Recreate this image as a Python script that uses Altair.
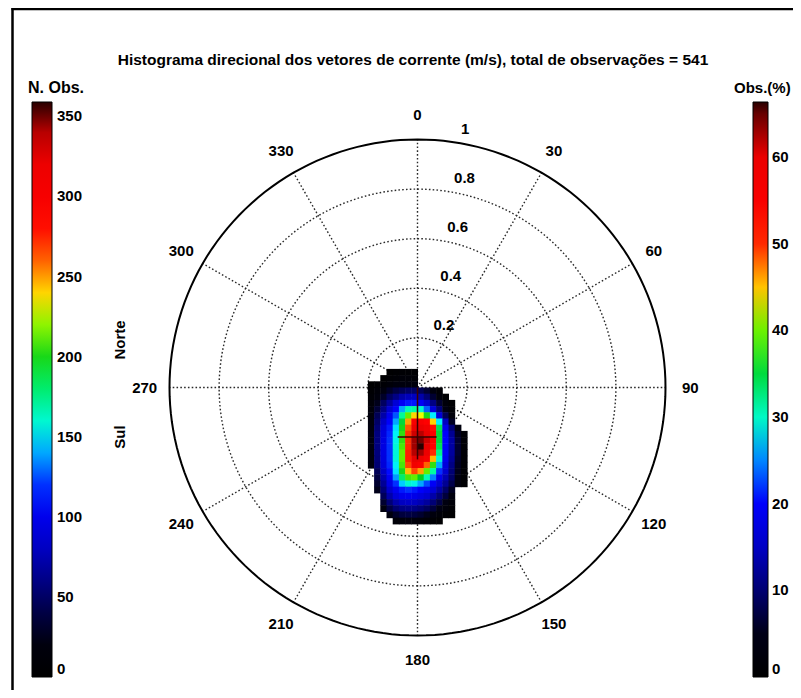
import math
import altair as alt
import pandas as pd

# ---------------- text ----------------
TITLE = "Histograma direcional dos vetores de corrente (m/s), total de observações = 541"
LEFT_TITLE = "N. Obs."
RIGHT_TITLE = "Obs.(%)"
NORTH_LABEL = "Norte"
SOUTH_LABEL = "Sul"
TOTAL_OBS = 541

# ---------------- polar grid ----------------
ANGLES = [0, 30, 60, 90, 120, 150, 180, 210, 240, 270, 300, 330]
ANGLE_LABELS = ["0", "30", "60", "90", "120", "150", "180", "210", "240", "270", "300", "330"]
RINGS = [0.2, 0.4, 0.6, 0.8]
RADIAL_TICKS = [0.2, 0.4, 0.6, 0.8, 1.0]
RADIAL_LABELS = ["0.2", "0.4", "0.6", "0.8", "1"]
R_MAX = 1.0

# ---------------- colour bars ----------------
COUNT_TICKS = [0, 50, 100, 150, 200, 250, 300, 350]
PCT_TICKS = [0, 10, 20, 30, 40, 50, 60]
STOP_COUNTS = [0, 25, 50, 85, 110, 130, 150, 170, 195, 215, 232, 250, 268, 285, 330, 345, 359]
STOP_COLORS = ["#000000", "#000010", "#000066", "#0000d0", "#0000ff", "#0060ff",
               "#00f0ff", "#00ffa0", "#00d020", "#60f000", "#ffff00", "#ffa000",
               "#ff3000", "#ff0000", "#e80000", "#a00000", "#280000"]

# ---------------- 2-D histogram (counts per velocity cell, m/s) ----------------
U_START = -0.2    # west edge of first column (east component, m/s)
V_START = 0.075   # north edge of first row (north component, m/s)
CELL = 0.025
N = None
GRID_ROWS = [
    [N, N, N, 3, 5, 6, 6, 4, N, N, N, N, N, N, N, N],
    [N, N, 3, 6, 10, 12, 12, 10, N, N, N, N, N, N, N, N],
    [2, 4, 8, 12, 18, 20, 20, 18, N, N, N, N, N, N, N, N],
    [5, 12, 22, 32, 40, 45, 50, 50, 45, 35, 20, 8, N, N, N, N],
    [8, 18, 32, 48, 60, 72, 78, 80, 72, 55, 35, 15, 5, N, N, N],
    [12, 28, 48, 68, 88, 105, 115, 115, 105, 85, 60, 35, 15, 5, N, N],
    [15, 36, 60, 85, 108, 140, 165, 170, 160, 130, 90, 55, 25, 8, N, N],
    [18, 45, 72, 100, 128, 172, 215, 240, 230, 200, 150, 90, 45, 15, N, N],
    [20, 50, 82, 108, 140, 190, 250, 295, 300, 285, 240, 150, 80, 30, N, N],
    [22, 55, 90, 115, 148, 200, 262, 320, 325, 310, 280, 185, 100, 55, 20, N],
    [24, 58, 92, 118, 152, 205, 268, 335, 340, 325, 290, 190, 108, 65, 30, 8],
    [24, 58, 94, 120, 155, 205, 270, 345, 350, 335, 290, 190, 110, 70, 35, 10],
    [24, 58, 94, 120, 158, 210, 272, 345, 359, 330, 285, 185, 108, 70, 35, 10],
    [24, 58, 94, 120, 158, 215, 275, 340, 345, 320, 270, 175, 105, 68, 35, 10],
    [24, 56, 92, 120, 158, 215, 275, 330, 325, 300, 245, 160, 100, 65, 32, 10],
    [22, 54, 90, 118, 152, 210, 265, 310, 295, 260, 205, 140, 92, 60, 30, 8],
    [N, 46, 82, 112, 148, 200, 245, 265, 250, 215, 170, 120, 85, 55, 28, 7],
    [N, 40, 74, 104, 138, 180, 210, 215, 195, 165, 135, 100, 75, 50, 25, 6],
    [N, 34, 66, 96, 120, 145, 160, 155, 140, 125, 105, 85, 65, 42, 20, 5],
    [N, 28, 56, 84, 102, 115, 120, 115, 108, 100, 88, 70, 50, 30, N, N],
    [N, N, 46, 72, 90, 100, 102, 98, 92, 85, 72, 55, 38, 20, N, N],
    [N, N, 34, 55, 72, 80, 82, 80, 75, 68, 55, 40, 25, 12, N, N],
    [N, N, 22, 40, 53, 60, 62, 60, 55, 48, 38, 26, 15, 7, N, N],
    [N, N, N, 22, 32, 38, 40, 38, 34, 28, 20, 12, 7, 3, N, N],
    [N, N, N, N, 12, 16, 18, 16, 14, 10, 6, 3, N, N, N, N],
]

# mean-vector marker (m/s)
MEAN_U = [0.0, 0.0]
MEAN_V = [0.0, -0.29]
CROSS_U = [-0.08, 0.077]
CROSS_V = [-0.2, -0.2]

# ---------------- layout ----------------
W, H = 785, 682
PX = 248.0                 # pixels per m/s
CX, CY = 409.5, 379.5      # pole position inside the canvas
FONT = "Liberation Sans"
LABEL_R = 1.1
RLABEL_ANGLE = 8.0
BAR_TOP, BAR_LEN = 94, 575
EPS = 0.5 / PX             # tiny overlap so neighbouring cells leave no seam

xs = alt.Scale(domain=[-CX / PX, (W - CX) / PX], nice=False, zero=False)
ys = alt.Scale(domain=[-(H - CY) / PX, CY / PX], nice=False, zero=False)

COUNT_MAX = STOP_COUNTS[-1]
PCT_MAX = COUNT_MAX * 100.0 / TOTAL_OBS
stop_pct = [c * 100.0 / TOTAL_OBS for c in STOP_COUNTS]

# ---------------- tables ----------------
cells = []
for i, row in enumerate(GRID_ROWS):
    for j, val in enumerate(row):
        if val is None:
            continue
        u0 = U_START + j * CELL
        v0 = V_START - i * CELL
        cells.append({"u0": u0, "u1": u0 + CELL + EPS, "v0": v0, "v1": v0 - CELL - EPS, "n": val})
cells = pd.DataFrame(cells)

circ = []
for r in RINGS + [R_MAX]:
    for k in range(0, 361, 2):
        t = math.radians(k)
        circ.append({"ring": r, "k": k, "u": r * math.sin(t), "v": r * math.cos(t)})
circ = pd.DataFrame(circ)

spokes = pd.DataFrame({
    "u0": [0.0] * len(ANGLES), "v0": [0.0] * len(ANGLES),
    "u1": [R_MAX * math.sin(math.radians(a)) for a in ANGLES],
    "v1": [R_MAX * math.cos(math.radians(a)) for a in ANGLES],
})
alabels = pd.DataFrame({
    "u": [LABEL_R * math.sin(math.radians(a)) for a in ANGLES],
    "v": [LABEL_R * math.cos(math.radians(a)) for a in ANGLES],
    "t": ANGLE_LABELS,
})
rlabels = pd.DataFrame({
    "u": [r * math.sin(math.radians(RLABEL_ANGLE)) for r in RADIAL_TICKS],
    "v": [r * math.cos(math.radians(RLABEL_ANGLE)) for r in RADIAL_TICKS],
    "t": RADIAL_LABELS,
})
mean_df = pd.DataFrame({"u0": [MEAN_U[0], CROSS_U[0]], "u1": [MEAN_U[1], CROSS_U[1]],
                        "v0": [MEAN_V[0], CROSS_V[0]], "v1": [MEAN_V[1], CROSS_V[1]]})
pct_df = pd.DataFrame({"p": [0.0, PCT_MAX]})
count_tick_df = pd.DataFrame({"t": COUNT_TICKS[1:]})
pct_tick_df = pd.DataFrame({"t": PCT_TICKS[1:]})

# ---------------- layers ----------------
dotted = dict(strokeDash=[1.6, 2.2], strokeWidth=1.4, color="#2a2a2a")

rings = alt.Chart(circ[circ.ring < R_MAX]).mark_line(**dotted).encode(
    x=alt.X("u:Q", scale=xs, axis=None),
    y=alt.Y("v:Q", scale=ys, axis=None),
    detail="ring:N", order="k:Q")

outer = alt.Chart(circ[circ.ring == R_MAX]).mark_line(color="black", strokeWidth=2).encode(
    x=alt.X("u:Q", scale=xs, axis=None),
    y=alt.Y("v:Q", scale=ys, axis=None),
    order="k:Q")

spoke_layer = alt.Chart(spokes).mark_rule(**dotted).encode(
    x=alt.X("u0:Q", scale=xs, axis=None), x2="u1:Q",
    y=alt.Y("v0:Q", scale=ys, axis=None), y2="v1:Q")

legend_common = dict(orient="none", legendY=BAR_TOP, direction="vertical",
                     gradientLength=BAR_LEN, labelFontSize=15, labelFont=FONT,
                     labelFontWeight="bold", labelColor="black", labelBaseline="middle",
                     labelOverlap=False, gradientStrokeColor="black",
                     gradientStrokeWidth=1, title=None)

heat = alt.Chart(cells).mark_rect().encode(
    x=alt.X("u0:Q", scale=xs, axis=None), x2="u1:Q",
    y=alt.Y("v0:Q", scale=ys, axis=None), y2="v1:Q",
    color=alt.Color("n:Q", scale=alt.Scale(domain=STOP_COUNTS, range=STOP_COLORS, interpolate="rgb"),
                    legend=alt.Legend(legendX=24, gradientThickness=20, values=COUNT_TICKS,
                                      labelOffset=5, **legend_common)))

pct_layer = alt.Chart(pct_df).mark_point(size=0, filled=True, opacity=1).encode(
    x=alt.value(-50), y=alt.value(-50),
    fill=alt.Fill("p:Q", scale=alt.Scale(domain=stop_pct, range=STOP_COLORS, interpolate="rgb"),
                  legend=alt.Legend(legendX=745, gradientThickness=15, values=PCT_TICKS,
                                    labelOffset=4, **legend_common)))

# colour-bar tick dashes (own y scales matching the bars)
cscale = alt.Scale(domain=[0, COUNT_MAX], range=[BAR_TOP + BAR_LEN, BAR_TOP], nice=False, zero=False)
pscale = alt.Scale(domain=[0, PCT_MAX], range=[BAR_TOP + BAR_LEN, BAR_TOP], nice=False, zero=False)


def bar_ticks(df, scale, xa, xb):
    return alt.Chart(df).mark_rule(color="#111111", strokeWidth=1.2).encode(
        x=alt.value(xa), x2=alt.value(xb), y=alt.Y("t:Q", scale=scale, axis=None))


ticks = [bar_ticks(count_tick_df, cscale, 24, 28), bar_ticks(count_tick_df, cscale, 40, 44),
         bar_ticks(pct_tick_df, pscale, 745, 748), bar_ticks(pct_tick_df, pscale, 757, 760)]

mean_layer = alt.Chart(mean_df).mark_rule(color="#3a0000", strokeWidth=1.5).encode(
    x=alt.X("u0:Q", scale=xs, axis=None), x2="u1:Q",
    y=alt.Y("v0:Q", scale=ys, axis=None), y2="v1:Q")

angle_text = alt.Chart(alabels).mark_text(font=FONT, fontSize=15, fontWeight="bold", color="black",
                                          align="center", baseline="middle").encode(
    x=alt.X("u:Q", scale=xs, axis=None), y=alt.Y("v:Q", scale=ys, axis=None), text="t:N")

radial_text = alt.Chart(rlabels).mark_text(font=FONT, fontSize=15, fontWeight="bold", color="black",
                                           align="left", baseline="middle", dx=9, dy=-13).encode(
    x=alt.X("u:Q", scale=xs, axis=None), y=alt.Y("v:Q", scale=ys, axis=None), text="t:N")


def label(txt, x, y, size=15, align="center", angle=0):
    return alt.Chart(pd.DataFrame({"t": [txt]})).mark_text(
        font=FONT, fontSize=size, fontWeight="bold", color="black", align=align,
        baseline="middle", angle=angle
    ).encode(text="t:N", x=alt.value(x), y=alt.value(y))


title_layer = label(TITLE, 405, 52, size=15.5)
left_title = label(LEFT_TITLE, 20, 80, size=16, align="left")
right_title = label(RIGHT_TITLE, 726, 80, size=15, align="left")
north = label(NORTH_LABEL, 112, 332, size=15, angle=270)
south = label(SOUTH_LABEL, 112, 429, size=15, angle=270)

frame_df = pd.DataFrame({"k": [0]})
frame_left = alt.Chart(frame_df).mark_rule(color="black", strokeWidth=2.5).encode(
    x=alt.value(4.5), y=alt.value(0), y2=alt.value(H))
frame_top = alt.Chart(frame_df).mark_rule(color="black", strokeWidth=2.5).encode(
    x=alt.value(3.5), x2=alt.value(W), y=alt.value(1))

chart = alt.layer(
    rings, spoke_layer, outer, heat, mean_layer, pct_layer, *ticks,
    angle_text, radial_text, title_layer, left_title, right_title, north, south,
    frame_left, frame_top,
).resolve_scale(
    color="independent", fill="independent", y="independent"
).properties(
    width=W, height=H, autosize=alt.AutoSizeParams(type="none"), padding=0, background="white"
).configure_view(stroke=None)

chart.save("out.html", embed_options={"renderer": "svg", "actions": False})
